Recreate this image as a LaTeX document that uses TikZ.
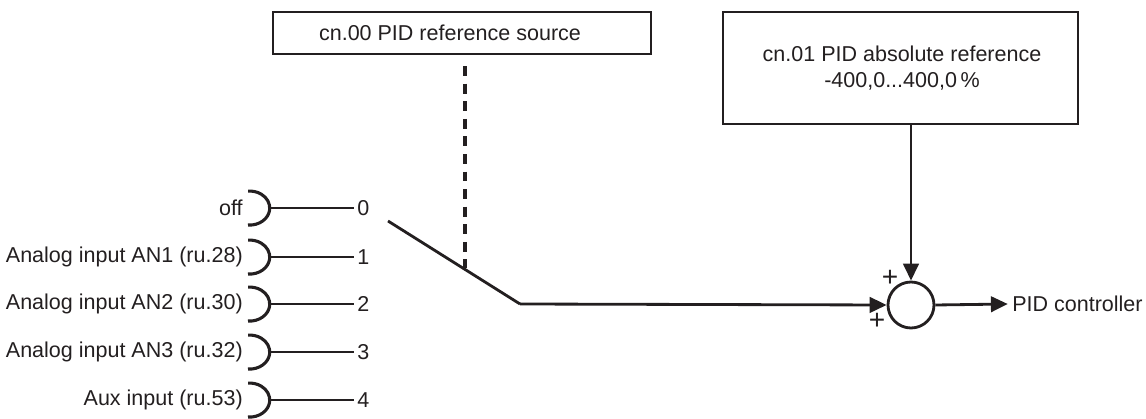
\documentclass[tikz,border=0pt]{standalone}
\usepackage{fontspec}
\setmainfont{Liberation Sans}
\usetikzlibrary{arrows.meta}
\definecolor{ink}{HTML}{231F20}
\begin{document}
\begin{tikzpicture}[x=0.025cm,y=-0.025cm, ink,
  every node/.style={font=\fontsize{15.3}{17}\selectfont, inner sep=0pt},
  box/.style={draw, line width=1.6pt},
  wire/.style={line width=2pt},
  thin wire/.style={line width=0.8pt},
  bracket/.style={line width=2.2pt},
  arr/.style={-{Triangle[length=12pt,width=11pt]}},
  lbl/.style={anchor=east},
  num/.style={anchor=west},
  sign/.style={font=\fontsize{20}{20}\selectfont}]
\useasboundingbox (0,0) rectangle (1146,419);
% top boxes
\node[box, minimum width=378*0.025cm, minimum height=42*0.025cm] (src) at (462,33) {};
\node at (450,33) {cn.00 PID reference source};
\node[box, minimum width=355*0.025cm, minimum height=112*0.025cm, align=center] (abs) at (900.5,68) {};
\node[align=center] at (902,68) {cn.01 PID absolute reference\\[1pt]-400,0...400,0\,\%};
% inputs
\foreach \i/\y/\t in {0/208/off,1/257/Analog input AN1 (ru.28),2/304/Analog input AN2 (ru.30),3/352/Analog input AN3 (ru.32),4/400/Aux input (ru.53)}{
  \node[lbl] (l\i) at (243,\y) {\t};
  \coordinate (c\i) at (268,\y);
  \draw[bracket] (248,\y+17) arc[start angle=95,end angle=-95,x radius=20,y radius=17];
  \node[num] (n\i) at (357,\y) {\i};
  \draw[thin wire] (c\i) -- ([xshift=-2pt]n\i.west);
}
% switch
\coordinate (sw0) at (388,221);
\coordinate (kink) at (520,304);
\coordinate (dashend) at (465,268);
\draw[wire] (sw0) -- (kink);
\draw[line width=2.2pt, dash pattern=on 7pt off 5.5pt] (src.south -| dashend) ++(0,11) -- (dashend);
% sum
\node[draw, circle, line width=2pt, minimum size=46*0.025cm] (sum) at (911,305) {};
\draw[wire,arr] (kink) -- (sum.west);
\draw[wire,arr] (abs.south -| sum.north) -- (sum.north);
\node[sign] (p1) at (890,278) {+};
\node[sign] (p2) at (877,321) {+};
\node[anchor=west] (out) at (1012,304) {PID controller};
\draw[wire,arr] (sum.east) -- ([xshift=-3pt]out.west);
\end{tikzpicture}
\end{document}
